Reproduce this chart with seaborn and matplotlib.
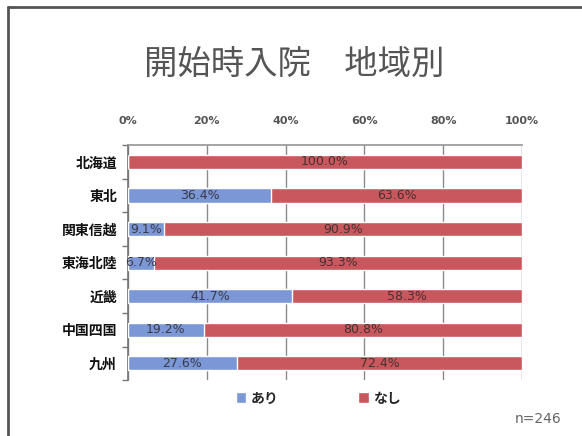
import matplotlib

matplotlib.use("Agg")
import matplotlib.pyplot as plt
import pandas as pd
import seaborn as sns
from matplotlib.lines import Line2D
from matplotlib.patches import Patch

# データ
regions = ["北海道", "東北", "関東信越", "東海北陸", "近畿", "中国四国", "九州"]
ari = [0.0, 36.4, 9.1, 6.7, 41.7, 19.2, 27.6]
nashi = [100.0, 63.6, 90.9, 93.3, 58.3, 80.8, 72.4]
x_ticks = [0, 20, 40, 60, 80, 100]
x_labels = ["0%", "20%", "40%", "60%", "80%", "100%"]

BLUE = "#7b97d6"
RED = "#c9575e"

sns.set_theme(style="white")
plt.rcParams["font.family"] = ["Noto Sans CJK JP", "DejaVu Sans"]

df = pd.DataFrame({"region": regions, "ari": ari, "nashi": nashi})
df["total"] = df["ari"] + df["nashi"]

fig = plt.figure(figsize=(5.82, 4.36), dpi=100)
ax = fig.add_axes([0.22, 0.128, 0.677, 0.539])

# 積み上げ: 合計(なし) を先に描き、その上に あり を重ねる
sns.barplot(data=df, x="total", y="region", color=RED, width=0.42,
            orient="h", ax=ax, saturation=1, zorder=2)
sns.barplot(data=df, x="ari", y="region", color=BLUE, width=0.42,
            orient="h", ax=ax, saturation=1, zorder=3)

for i, (a, n) in enumerate(zip(ari, nashi)):
    if a > 0:
        ax.text(a / 2, i, f"{a:.1f}%", ha="center", va="center",
                fontsize=9, color="#3a3a4a", family="DejaVu Sans", zorder=4)
    ax.text(a + n / 2, i, f"{n:.1f}%", ha="center", va="center",
            fontsize=9, color="#4a3030", family="DejaVu Sans", zorder=4)

ax.set_xlim(0, 100)
ax.set_ylim(len(regions) - 0.5, -0.5)
ax.set_xticks(x_ticks)
ax.set_xticklabels(x_labels, fontsize=8, fontweight="bold", color="#555555",
                   family="DejaVu Sans")
ax.xaxis.tick_top()
ax.tick_params(axis="x", length=0, pad=14)
ax.set_yticks(range(len(regions)))
ax.set_yticklabels(regions, fontsize=10, fontweight="bold", color="#111111")
ax.set_yticks([i + 0.5 for i in range(-1, len(regions))], minor=True)
ax.tick_params(axis="y", which="major", length=0, pad=8)
ax.tick_params(axis="y", which="minor", length=4, color="#777777", left=True)
ax.set_xlabel("")
ax.set_ylabel("")
ax.grid(axis="x", color="#8a8a8a", lw=1, zorder=0)
ax.set_axisbelow(True)
for side in ["right", "bottom"]:
    ax.spines[side].set_visible(False)
ax.spines["left"].set_color("#777777")
ax.spines["top"].set_color("#999999")
ax.spines["top"].set_linestyle((0, (2, 1)))

fig.text(0.505, 0.852, "開始時入院\u3000地域別", ha="center", va="center",
         fontsize=24, color="#555555")

handles = [Patch(facecolor=BLUE, label="あり"), Patch(facecolor=RED, label="なし")]
leg = fig.legend(handles=handles, loc="center", bbox_to_anchor=(0.547, 0.085),
                 ncol=2, frameon=False, handlelength=0.7, handleheight=0.7,
                 handletextpad=0.3, columnspacing=5.2)
for t in leg.get_texts():
    t.set_fontweight("bold")
    t.set_fontsize(10)

fig.text(0.965, 0.04, "n=246", ha="right", va="center", fontsize=10,
         color="#666666", family="DejaVu Sans")

# スライドの枠線
fig.add_artist(Line2D([0.014, 0.014], [0.0, 0.984], color="#555555", lw=2))
fig.add_artist(Line2D([0.014, 1.0], [0.984, 0.984], color="#555555", lw=2))

fig.savefig("out.png", dpi=100)
plt.close(fig)
